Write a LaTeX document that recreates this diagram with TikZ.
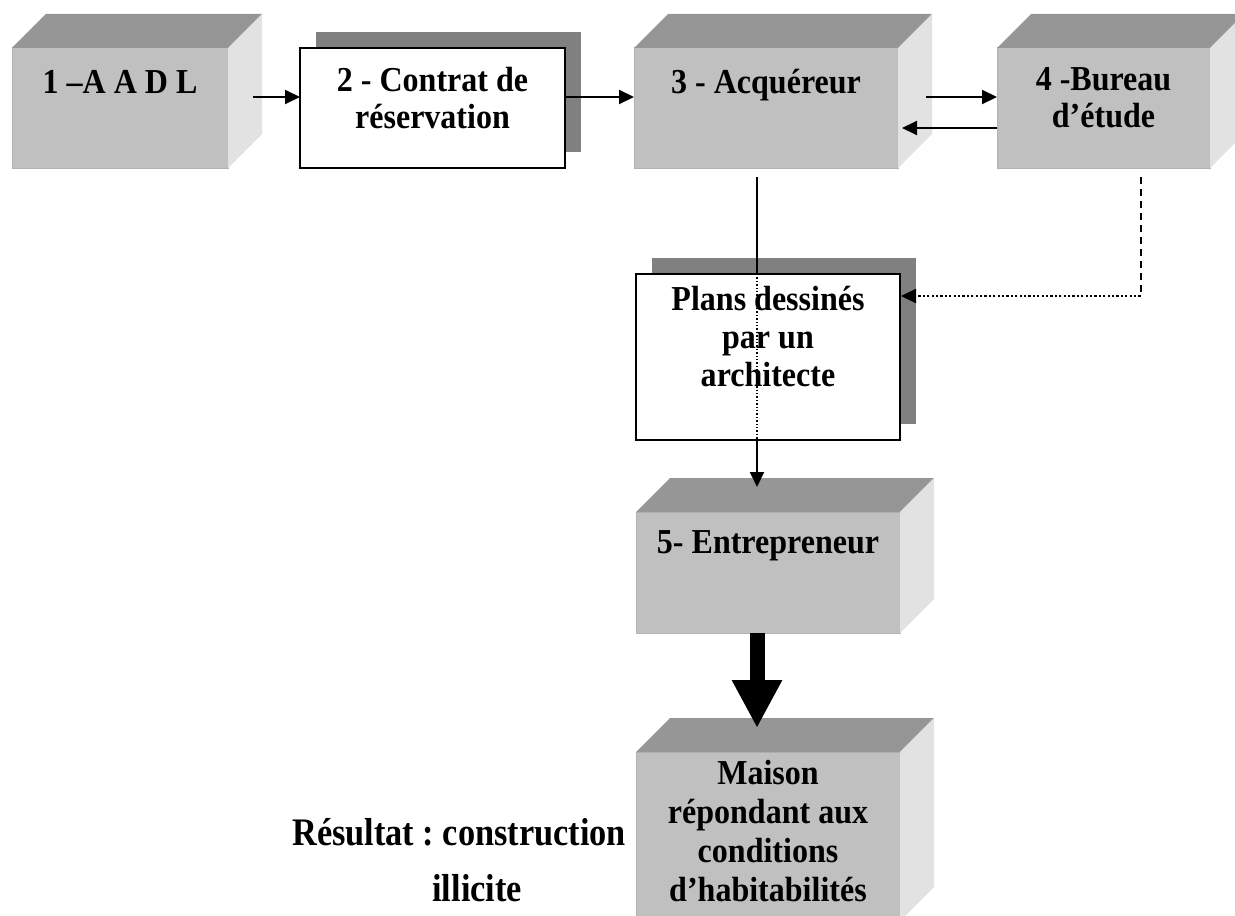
\documentclass[tikz,border=0pt]{standalone}
\usepackage{fontspec}
\setmainfont{Liberation Serif}
\newfontfamily\boxfont[FakeStretch=0.915]{Liberation Serif}
\newfontfamily\notefont[FakeStretch=0.88]{Liberation Serif}
\usetikzlibrary{arrows.meta,shadows}
\frenchspacing

\definecolor{frontgray}{HTML}{C0C0C0}
\definecolor{edgegray}{HTML}{B2B2B2}
\definecolor{topgray}{HTML}{969696}
\definecolor{sidegray}{HTML}{E2E2E2}
\definecolor{shadowgray}{HTML}{808080}

% top and right faces of a box drawn as a cube (depth 34 units up-right)
\newcommand\cubefaces[1]{%
  \fill[topgray] (#1.north west) -- ++(34,-34)
    -- ([shift={(34,-34)}]#1.north east) -- (#1.north east) -- cycle;
  \fill[sidegray] (#1.north east) -- ++(34,-34)
    -- ([shift={(34,-34)}]#1.south east) -- (#1.south east) -- cycle;
}

\begin{document}
\begin{tikzpicture}[x=0.5pt,y=-0.5pt,
  cube/.style={fill=frontgray, draw=edgegray, line width=0.5pt,
    inner sep=0pt, outer sep=0pt},
  card/.style={fill=white, draw=black, line width=1pt, inner sep=0pt, outer sep=0pt,
    drop shadow={shadow xshift=8pt, shadow yshift=8pt, fill=shadowgray, opacity=1}},
  lbl/.style={font=\boxfont\bfseries\fontsize{17.5}{18.5}\selectfont, align=center,
    anchor=north, inner sep=0pt, execute at begin node={\rule{0pt}{13pt}}},
  arr/.style={line width=1pt, -{Triangle[length=7.5pt,width=7pt]}},
  link/.style={line width=1pt},
  dashlink/.style={line width=1pt, dash pattern=on 3.5pt off 2.5pt},
  dotlink/.style={line width=1.2pt, dash pattern=on 1.1pt off 1.1pt},
  thinDots/.style={line width=0.7pt, dash pattern=on 0.7pt off 1pt},
  bigarrow/.style={line width=7.5pt, -{Triangle[length=24pt,width=23.5pt]}},
  ]
\useasboundingbox (0,0) rectangle (1235,915);
\clip (0,0) rectangle (1235,915);

% ---- boxes ----
\node[cube, minimum width=108pt,   minimum height=60pt]   (aadl)    at (120,108)    {};
\cubefaces{aadl}
\node[card, minimum width=132.5pt, minimum height=60pt]   (contrat) at (432.5,108)  {};
\node[cube, minimum width=132pt,   minimum height=60pt]   (acq)     at (766,108)    {};
\cubefaces{acq}
\node[cube, minimum width=106.5pt, minimum height=60pt]   (bureau)  at (1103.5,108) {};
\cubefaces{bureau}
\node[card, minimum width=132pt,   minimum height=83pt]   (plans)   at (768,357)    {};
\node[cube, minimum width=132pt,   minimum height=60.5pt] (entre)   at (768,572.5)  {};
\cubefaces{entre}
\node[cube, minimum width=132pt,   minimum height=84.5pt] (maison)  at (768,836.5)  {};
\cubefaces{maison}

% ---- connectors ----
\draw[arr] ([shift={(25,-11)}]aadl.east) -- ([shift={(0,-11)}]contrat.west);
\draw[arr] ([shift={(0,-11)}]contrat.east) -- ([shift={(0,-11)}]acq.west);
\draw[arr] ([shift={(28,-11)}]acq.east) -- ([shift={(0,-11)}]bureau.west);
\draw[arr] ([shift={(0,20)}]bureau.west) -- ([shift={(4,20)}]acq.east);

\coordinate (s3) at ([shift={(-9,9)}]acq.south);
\draw[link] (s3) -- (s3 |- plans.north);
\draw[thinDots] (s3 |- plans.north) -- (s3 |- plans.south);
\draw[arr] (s3 |- plans.south) -- ([shift={(-11,-25)}]entre.north);

\coordinate (b4) at ([shift={(37,9)}]bureau.south);
\coordinate (pk) at ([shift={(1,22)}]plans.north east);
\draw[dashlink] (b4) -- (b4 |- pk);
\draw[dotlink, -{Triangle[length=7.5pt,width=7pt]}] (b4 |- pk) -- (pk);

\draw[bigarrow] ([shift={(-11,0)}]entre.south) -- ([shift={(-11,-24)}]maison.north);

% ---- labels ----
\node[lbl] (aadl-t)    at ([shift={(0,19)}]aadl.north)    {1 –A A D L};
\node[lbl] (contrat-t) at ([shift={(0,19)}]contrat.north) {2 - Contrat de\\réservation};
\node[lbl] (acq-t)     at ([shift={(0,19)}]acq.north)     {3 - Acquéreur};
\node[lbl] (bureau-t)  at ([shift={(0,19)}]bureau.north)  {4 -Bureau\\d’étude};
\node[lbl, font=\boxfont\bfseries\fontsize{17.5}{19}\selectfont]
  (plans-t)   at ([shift={(0,12)}]plans.north)   {Plans dessinés\\par un\\architecte};
\node[lbl] (entre-t)   at ([shift={(0,15)}]entre.north)   {5- Entrepreneur};
\node[lbl, font=\boxfont\bfseries\fontsize{17.5}{19.5}\selectfont]
  (maison-t)  at ([shift={(0,8)}]maison.north)  {Maison\\répondant aux\\conditions\\d’habitabilités};

\node[font=\notefont\bfseries\fontsize{19.5}{28}\selectfont, align=left, anchor=north west,
  inner sep=0pt, execute at begin node={\rule{0pt}{14pt}}] (result) at (292,818)
  {Résultat : construction\\\hspace*{70pt}illicite};
\end{tikzpicture}
\end{document}
